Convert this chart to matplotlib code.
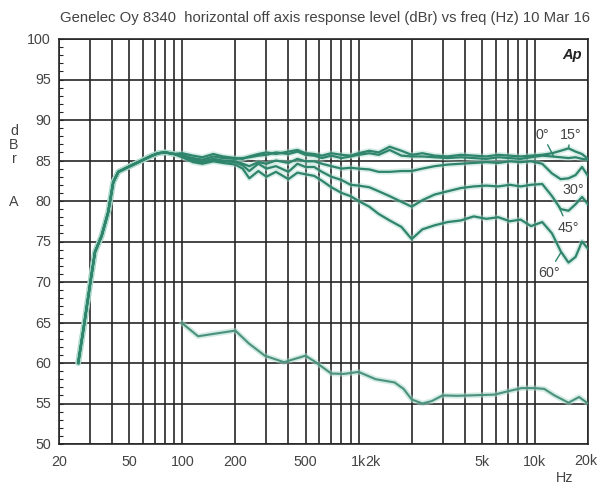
import numpy as np
import matplotlib
matplotlib.use("Agg")
import matplotlib.pyplot as plt

plt.rcParams["font.family"] = ["Liberation Sans", "DejaVu Sans"]

# ---- data (freq in Hz, level in dBr A) ----
# shared low-frequency roll-off
lf_freq = [25.7, 27.8, 30.0, 32.0, 34.9, 38.0, 40.6, 43.4, 49.4, 56.4, 67.3, 73.3, 80, 90]
lf_db = [60.0, 64.8, 69.7, 73.7, 75.7, 78.6, 82.3, 83.6, 84.2, 84.8, 85.6, 85.9, 86.0, 85.8]

freq = [100, 115, 130, 150, 170, 200, 220, 240, 270, 300, 340, 400, 450, 500,
        560, 620, 700, 800, 900, 1000, 1150, 1300, 1500, 1750, 2000, 2300,
        2700, 3200, 3800, 4500, 5300, 6200, 7200, 8300, 9500, 11000, 12500,
        14000, 15500, 17000, 18500, 20000]

db_0 = [85.6, 85.3, 85.1, 85.5, 85.3, 85.2, 85.3, 85.4, 85.6, 85.7, 86.0, 85.8,
        86.1, 85.7, 85.6, 85.3, 85.6, 85.3, 85.5, 85.7, 85.9, 85.7, 86.3, 85.6,
        85.5, 85.5, 85.4, 85.3, 85.4, 85.3, 85.2, 85.4, 85.3, 85.2, 85.4, 85.6,
        85.5, 85.4, 85.3, 85.4, 85.2, 85.1]
db_15 = [85.9, 85.6, 85.4, 85.8, 85.5, 85.3, 85.2, 85.5, 85.8, 86.0, 85.8, 86.1,
         86.3, 85.9, 85.8, 85.6, 85.9, 85.7, 85.6, 85.9, 86.2, 86.0, 86.7, 86.2,
         85.7, 85.9, 85.6, 85.5, 85.7, 85.6, 85.5, 85.7, 85.6, 85.5, 85.6, 85.7,
         85.9, 86.2, 86.5, 86.1, 85.8, 85.2]
db_30 = [85.7, 85.2, 84.9, 85.2, 85.0, 84.9, 84.6, 84.3, 84.8, 84.6, 85.0, 84.7,
         85.2, 84.9, 84.9, 84.6, 84.3, 84.0, 84.1, 84.0, 83.9, 83.6, 83.6, 83.7,
         83.7, 84.0, 84.3, 84.5, 84.6, 84.7, 84.8, 84.7, 84.9, 84.8, 84.9, 84.6,
         83.4, 82.7, 82.8, 83.2, 84.2, 83.1]
db_45 = [85.5, 85.0, 84.7, 85.0, 84.9, 84.8, 84.4, 83.7, 84.6, 84.0, 84.3, 83.6,
         84.6, 84.2, 84.2, 83.6, 83.0, 82.6, 82.0, 81.9, 81.7, 81.2, 80.6, 79.9,
         79.3, 80.1, 80.8, 81.2, 81.6, 81.8, 81.9, 81.8, 82.0, 81.8, 82.0, 82.1,
         80.6, 79.0, 78.8, 79.6, 80.5, 79.6]
db_60 = [85.4, 84.8, 84.6, 84.9, 84.7, 84.5, 84.0, 82.8, 83.7, 83.0, 83.6, 82.7,
         83.5, 83.3, 83.1, 82.5, 81.7, 81.0, 80.6, 80.0, 79.3, 78.4, 77.6, 76.8,
         75.3, 76.5, 77.0, 77.4, 77.6, 78.1, 77.8, 78.0, 77.5, 77.7, 76.9, 77.4,
         76.0, 73.8, 72.4, 73.1, 75.0, 74.1]

# rear curve (no label in the chart)
rear_freq = [100, 123, 151, 200, 239, 294, 378, 434, 500, 571, 700, 824, 1000,
             1250, 1600, 1800, 2000, 2300, 2600, 3000, 3600, 4300, 5900, 7000,
             8400, 10000, 11300, 12900, 15500, 17800, 20000]
rear_db = [64.9, 63.3, 63.6, 64.0, 62.4, 60.9, 60.1, 60.5, 60.9, 60.1, 58.7,
           58.65, 58.9, 58.0, 57.6, 56.8, 55.5, 55.0, 55.3, 56.0, 55.95, 56.0,
           56.1, 56.5, 56.9, 56.9, 56.8, 56.0, 55.1, 55.8, 55.0]

curves = [("0°", db_0), ("15°", db_15), ("30°", db_30), ("45°", db_45), ("60°", db_60)]

x_ticks = [20, 50, 100, 200, 500, 1000, 5000, 10000]
x_tick_labels = ["20", "50", "100", "200", "500", "1k", "5k", "10k"]
y_ticks = list(range(50, 101, 5))

# ---- figure ----
fig = plt.figure(figsize=(5.98, 4.89), dpi=100)
ax = fig.add_axes([59 / 598, 1 - 445 / 489, 529 / 598, 405 / 489])

line_col = "#2f846c"
halo_col = "#a8d8c8"
grid_col = "#262626"
text_col = "#444444"
fs = 10.3

ax.set_xscale("log")
ax.set_xlim(20, 20000)
ax.set_ylim(50, 100)

# grid: every 1-2-...-9 decade line, every 5 dB
vlines = [m * 10 ** e for e in range(1, 5) for m in range(1, 10)]
vlines = [v for v in vlines if 20 <= v <= 20000]
for v in vlines:
    ax.axvline(v, color=grid_col, lw=1.2, zorder=1)
for h in y_ticks:
    ax.axhline(h, color=grid_col, lw=1.2, zorder=1)

for sp in ax.spines.values():
    sp.set_color(grid_col)
    sp.set_linewidth(1.2)

# curves
for label, vals in curves:
    ax.plot(lf_freq + freq, lf_db + vals, color=halo_col, lw=4.0, alpha=0.45,
            zorder=2, solid_capstyle="round")
for label, vals in curves:
    ax.plot(lf_freq + freq, lf_db + vals, color=line_col, lw=1.6, zorder=3)
ax.plot(rear_freq, rear_db, color=halo_col, lw=4.0, alpha=0.5, zorder=2)
ax.plot(rear_freq, rear_db, color="#4a927d", lw=1.5, zorder=3)

# angle labels with pointer lines
label_pos = {"0°": (10960, 88.3), "15°": (16000, 88.3), "30°": (16400, 81.5),
             "45°": (15400, 76.8), "60°": (12000, 71.2)}
point_f = {"0°": 12800, "15°": 15500, "30°": 13300, "45°": 13600, "60°": 14100}
for label, vals in curves:
    pf = point_f[label]
    pd_ = np.interp(np.log10(pf), np.log10(freq), vals)
    ax.annotate(label, xy=(pf, pd_), xytext=label_pos[label],
                ha="center", va="center", fontsize=fs, color=text_col,
                arrowprops=dict(arrowstyle="-", color=line_col, lw=1.0,
                                shrinkA=1, shrinkB=0),
                zorder=5)

# ticks
ax.set_xticks([])
ax.set_yticks([])
ax.minorticks_off()
ax.set_yticks(np.arange(50, 101, 1), minor=True)
ax.tick_params(axis="y", which="minor", direction="in", length=3, width=0.8,
               color=grid_col, labelleft=False)
ax.tick_params(axis="x", which="both", bottom=False, labelbottom=False)

for yv in y_ticks:
    ax.text(-0.015, (yv - 50) / 50, str(yv), transform=ax.transAxes,
            ha="right", va="center", fontsize=fs, color=text_col)
for xv, xl in zip(x_ticks, x_tick_labels):
    ax.text(xv, 47.9, xl, ha="center", va="center", fontsize=fs,
            color=text_col, clip_on=False)
ax.text(1090, 47.9, "2k", ha="left", va="center", fontsize=fs,
        color=text_col, clip_on=False)
# right-most label hugs the image edge, as in the original
fig.text(597 / 598, 1 - 461 / 489, "20k", ha="right", va="center",
         fontsize=fs, color=text_col)

ax.text(0.970, 0.963, "Ap", transform=ax.transAxes, ha="center", va="center",
        fontsize=10.5, fontweight="bold", fontstyle="italic", color="#222222")

fig.text(565 / 598, 1 - 478 / 489, "Hz", ha="center", va="center",
         fontsize=fs, color=text_col)
for ch, yp in [("d", 131), ("B", 145), ("r", 159), ("A", 202)]:
    fig.text(14 / 598, 1 - yp / 489, ch, ha="center", va="center",
             fontsize=fs, color=text_col)

fig.text(325 / 598, 1 - 18 / 489,
         "Genelec Oy 8340  horizontal off axis response level (dBr) vs freq (Hz) 10 Mar 16",
         ha="center", va="center", fontsize=10.7, color=text_col)

fig.savefig("out.png", dpi=100, facecolor="white")
